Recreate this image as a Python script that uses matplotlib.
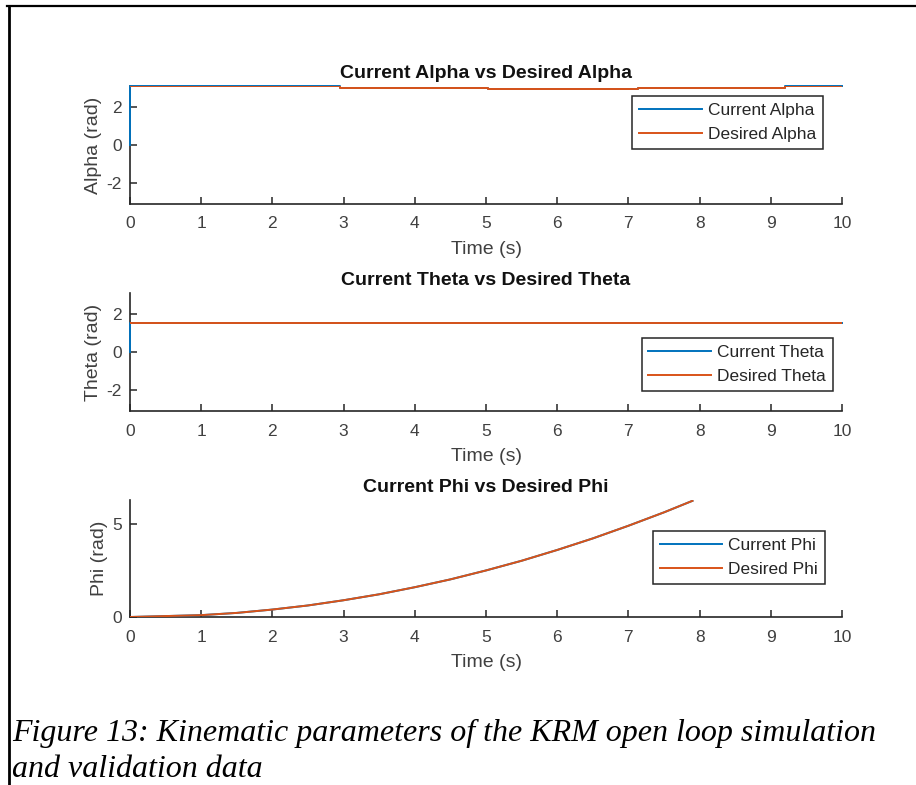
import matplotlib
matplotlib.use("Agg")
import matplotlib.pyplot as plt
from matplotlib.lines import Line2D
import numpy as np

# ---- data ----
time_range = [0, 10]

alpha_t = [0, 2.95, 5.03, 7.13, 9.2, 10]
alpha_desired = [3.14, 3.04, 2.96, 3.04, 3.14, 3.14]
alpha_current_t = [0, 0, 2.95, 5.03, 7.13, 9.2, 10]
alpha_current = [0, 3.14, 3.04, 2.96, 3.04, 3.14, 3.14]

theta_t = [0, 10]
theta_desired = [1.57, 1.57]
theta_current_t = [0, 0, 10]
theta_current = [0, 1.57, 1.57]

phi_t = [0, 1.0, 1.5, 2.0, 2.5, 3.0, 3.5, 4.0, 4.5, 5.0, 5.5, 6.0, 6.5, 7.0, 7.5, 7.9]
phi_desired = [0, 0.1, 0.22, 0.4, 0.62, 0.9, 1.22, 1.6, 2.02, 2.5, 3.02, 3.6, 4.22, 4.9, 5.62, 6.24]
phi_current = [0, 0.1, 0.22, 0.4, 0.62, 0.9, 1.22, 1.6, 2.02, 2.5, 3.02, 3.6, 4.22, 4.9, 5.62, 6.24]

x_ticks = [0, 1, 2, 3, 4, 5, 6, 7, 8, 9, 10]
angle_ticks = [-2, 0, 2]
phi_ticks = [0, 5]

caption_lines = ["Figure 13: Kinematic parameters of the KRM open loop simulation",
                 "and validation data"]

# ---- style ----
W, H = 916, 785
BLUE = "#0072BD"
ORANGE = "#D95319"
AX_COL = "#262626"
plt.rcParams["font.family"] = ["Liberation Sans", "DejaVu Sans"]
plt.rcParams["axes.unicode_minus"] = False

fig = plt.figure(figsize=(W / 100, H / 100), dpi=100)
fig.patch.set_facecolor("white")


def px_axes(left, top, right, bottom):
    return fig.add_axes([left / W, 1 - bottom / H, (right - left) / W, (bottom - top) / H])


def style(ax, title, ylabel, ylim, yticks, leg_anchor):
    ax.set_xlim(*time_range)
    ax.set_ylim(*ylim)
    ax.set_xticks(x_ticks)
    ax.set_yticks(yticks)
    for s in ("top", "right"):
        ax.spines[s].set_visible(False)
    for s in ("left", "bottom"):
        ax.spines[s].set_color(AX_COL)
        ax.spines[s].set_linewidth(1.2)
        ax.spines[s].set_zorder(1.5)
    ax.tick_params(direction="in", length=5, width=1.1, colors=AX_COL,
                   labelsize=12.5, labelcolor="#404040", pad=6)
    ax.tick_params(axis="x", pad=9)
    ax.set_title(title, fontsize=14, fontweight="bold", pad=6, color="#111111")
    ax.set_xlabel("Time (s)", fontsize=14, color="#404040", labelpad=7)
    ax.set_ylabel(ylabel, fontsize=14, color="#404040", labelpad=3)
    leg = ax.legend(loc="upper right", bbox_to_anchor=leg_anchor, fontsize=12.5,
                    frameon=True, fancybox=False, framealpha=1, edgecolor=AX_COL,
                    handlelength=3.6, handletextpad=0.35, borderpad=0.4,
                    labelspacing=0.5, borderaxespad=0)
    leg.get_frame().set_linewidth(1.1)
    for t in leg.get_texts():
        t.set_color("#262626")


ax1 = px_axes(130, 86, 842, 204)
ax1.plot(alpha_current_t, alpha_current, color=BLUE, lw=1.4, drawstyle="steps-post",
         clip_on=False, label="Current Alpha")
ax1.plot(alpha_t, alpha_desired, color=ORANGE, lw=1.4, drawstyle="steps-post", label="Desired Alpha")
style(ax1, "Current Alpha vs Desired Alpha", "Alpha (rad)", (-np.pi, np.pi), angle_ticks, (0.973, 0.915))

ax2 = px_axes(130, 293, 842, 411)
ax2.plot(theta_current_t, theta_current, color=BLUE, lw=1.4, clip_on=False, label="Current Theta")
ax2.plot(theta_t, theta_desired, color=ORANGE, lw=1.4, label="Desired Theta")
style(ax2, "Current Theta vs Desired Theta", "Theta (rad)", (-np.pi, np.pi), angle_ticks, (0.987, 0.619))

ax3 = px_axes(130, 500, 842, 617)
ax3.plot(phi_t, phi_current, color=BLUE, lw=1.4, label="Current Phi")
ax3.plot(phi_t, phi_desired, color=ORANGE, lw=1.4, label="Desired Phi")
style(ax3, "Current Phi vs Desired Phi", "Phi (rad)", (0, 2 * np.pi), phi_ticks, (0.976, 0.735))

# page frame lines
fig.add_artist(Line2D([7 / W, 1], [1 - 6 / H, 1 - 6 / H], transform=fig.transFigure,
                      color="black", lw=1.6))
fig.add_artist(Line2D([8.5 / W, 8.5 / W], [1 - 6 / H, 0], transform=fig.transFigure,
                      color="black", lw=2.0))

# caption
for i, line in enumerate(caption_lines):
    fig.text(12 / W, 1 - (741 + 36 * i) / H, line, fontsize=23, style="italic",
             family=["Liberation Serif", "DejaVu Serif"], color="black",
             ha="left", va="baseline")

fig.savefig("out.png", dpi=100, facecolor="white")
